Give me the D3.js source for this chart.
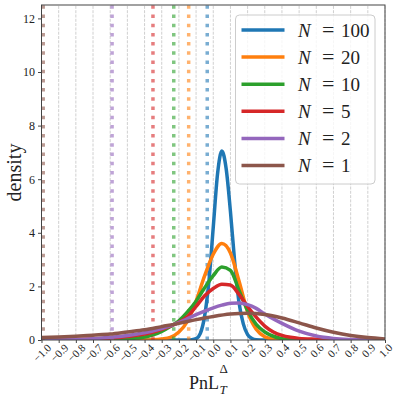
<!DOCTYPE html>
<html>
<head>
<meta charset="utf-8">
<script src="https://cdn.jsdelivr.net/npm/d3@7"></script>
<style>
  body { margin: 0; background: #fff; }
  text { font-family: 'Liberation Serif', 'DejaVu Serif', serif; fill: #222; }
</style>
</head>
<body>
<div id="chart"></div>
<script>
const nValues = [100, 20, 10, 5, 2, 1];
const colors = ['#1f77b4', '#ff7f0e', '#2ca02c', '#d62728', '#9467bd', '#8c564b'];
const xTicks = [-1.0, -0.9, -0.8, -0.7, -0.6, -0.5, -0.4, -0.3, -0.2, -0.1, 0.0,
  0.1, 0.2, 0.3, 0.4, 0.5, 0.6, 0.7, 0.8, 0.9, 1.0];
const yTicks = [0, 2, 4, 6, 8, 10, 12];
// dotted vertical lines, one per N
const quantiles = [-0.035, -0.143, -0.23, -0.351, -0.589, -0.99];

const dens100 = [[-1.0, 0], [-0.15, 0], [-0.125, 0.01], [-0.1, 0.05], [-0.075, 0.25], [-0.05, 0.9],
  [-0.025, 2.2], [0.0, 4.2], [0.025, 6.2], [0.05, 7.05], [0.075, 6.4], [0.1, 4.8], [0.125, 2.9],
  [0.15, 1.4], [0.175, 0.6], [0.2, 0.2], [0.225, 0.06], [0.25, 0.01], [0.3, 0], [1.0, 0]];
const dens20 = [[-1.0, 0], [-0.4, 0], [-0.35, 0.01], [-0.3, 0.04], [-0.25, 0.1], [-0.2, 0.3],
  [-0.15, 0.7], [-0.1, 1.45], [-0.05, 2.4], [0.0, 3.2], [0.05, 3.6], [0.1, 3.25], [0.15, 2.2],
  [0.2, 1.05], [0.25, 0.4], [0.3, 0.12], [0.35, 0.03], [0.4, 0], [1.0, 0]];
const dens10 = [[-1.0, 0], [-0.6, 0.01], [-0.5, 0.04], [-0.45, 0.07], [-0.4, 0.11], [-0.35, 0.19],
  [-0.3, 0.32], [-0.25, 0.5], [-0.2, 0.72], [-0.15, 1.05], [-0.1, 1.45], [-0.05, 1.95], [0.0, 2.4],
  [0.05, 2.72], [0.1, 2.6], [0.15, 1.85], [0.2, 1.1], [0.25, 0.58], [0.3, 0.3], [0.35, 0.14],
  [0.4, 0.05], [0.45, 0.02], [0.5, 0], [1.0, 0]];
const dens5 = [[-1.0, 0], [-0.8, 0.02], [-0.7, 0.04], [-0.6, 0.07], [-0.5, 0.13], [-0.4, 0.22],
  [-0.35, 0.3], [-0.3, 0.4], [-0.25, 0.52], [-0.2, 0.66], [-0.15, 0.88], [-0.1, 1.25], [-0.05, 1.65],
  [0.0, 1.92], [0.05, 2.08], [0.1, 2.05], [0.15, 1.7], [0.2, 1.25], [0.25, 0.85], [0.3, 0.52],
  [0.35, 0.3], [0.4, 0.17], [0.45, 0.1], [0.5, 0.06], [0.6, 0.03], [0.7, 0.01], [0.8, 0], [1.0, 0]];
const dens2 = [[-1.0, 0], [-0.8, 0.02], [-0.7, 0.05], [-0.6, 0.1], [-0.5, 0.17], [-0.4, 0.27],
  [-0.3, 0.43], [-0.2, 0.65], [-0.1, 0.95], [0.0, 1.2], [0.05, 1.3], [0.1, 1.37], [0.15, 1.38],
  [0.2, 1.32], [0.25, 1.18], [0.3, 0.97], [0.4, 0.62], [0.5, 0.33], [0.6, 0.15], [0.7, 0.06],
  [0.8, 0.02], [0.9, 0], [1.0, 0]];
const dens1 = [[-1.0, 0.09], [-0.9, 0.11], [-0.8, 0.14], [-0.7, 0.18], [-0.6, 0.22], [-0.5, 0.3],
  [-0.4, 0.38], [-0.3, 0.5], [-0.2, 0.62], [-0.1, 0.76], [0.0, 0.88], [0.1, 0.97], [0.2, 1.0],
  [0.3, 0.95], [0.4, 0.82], [0.5, 0.64], [0.6, 0.45], [0.7, 0.29], [0.8, 0.17], [0.9, 0.09], [1.0, 0.04]];

const densities = [dens100, dens20, dens10, dens5, dens2, dens1];

const width = 399, height = 399;
const margin = { top: 5, right: 14, bottom: 59, left: 41.5 };

const svg = d3.select('#chart').append('svg')
  .attr('width', width)
  .attr('height', height);

const x = d3.scaleLinear().domain([-1, 1]).range([margin.left, width - margin.right]);
const y = d3.scaleLinear().domain([0, 12.5]).range([height - margin.bottom, margin.top]);

svg.append('clipPath').attr('id', 'plot-clip')
  .append('rect')
  .attr('x', margin.left).attr('y', margin.top)
  .attr('width', x(1) - x(-1)).attr('height', y(0) - y(12.5));

// vertical grid
svg.append('g')
  .selectAll('line')
  .data(xTicks)
  .join('line')
  .attr('x1', d => x(d)).attr('x2', d => x(d))
  .attr('y1', y(0)).attr('y2', y(12.5))
  .attr('stroke', '#c4c4c4')
  .attr('stroke-width', 0.8)
  .attr('stroke-dasharray', '3,1.3');

const plot = svg.append('g').attr('clip-path', 'url(#plot-clip)');
const line = d3.line()
  .x(d => x(d[0]))
  .y(d => y(d[1]))
  .curve(d3.curveMonotoneX);

densities.forEach((dens, i) => {
  plot.append('path')
    .datum(dens)
    .attr('d', line)
    .attr('fill', 'none')
    .attr('stroke', colors[i])
    .attr('stroke-width', 3.5)
    .attr('stroke-linejoin', 'round');
  plot.append('line')
    .attr('x1', x(quantiles[i])).attr('x2', x(quantiles[i]))
    .attr('y1', y(0)).attr('y2', y(12.5))
    .attr('stroke', colors[i])
    .attr('stroke-opacity', 0.6)
    .attr('stroke-width', 3.5)
    .attr('stroke-dasharray', '3.5,5.7');
});

// axes
function xAxis(g) {
  g.attr('transform', `translate(0, ${y(0)})`)
    .call(d3.axisBottom(x).tickValues(xTicks).tickFormat(d3.format('.1f')).tickSize(3).tickSizeOuter(0));
  g.select('.domain').remove();
  g.selectAll('.tick line').attr('stroke', '#444');
  g.selectAll('.tick text')
    .attr('font-size', '11px')
    .attr('text-anchor', 'middle')
    .attr('dy', null)
    .attr('dominant-baseline', 'central')
    .each(function () {
      const len = this.getComputedTextLength();
      const bb = (len + 7.5) / Math.SQRT2;
      d3.select(this).attr('y', null)
        .attr('transform', `translate(0, ${3 + bb / 2}) rotate(-45)`);
    });
}

function yAxis(g) {
  g.attr('transform', `translate(${margin.left}, 0)`)
    .call(d3.axisLeft(y).tickValues(yTicks).tickSize(3.5).tickPadding(3));
  g.select('.domain').remove();
  g.selectAll('.tick line').attr('stroke', '#444');
  g.selectAll('.tick text').attr('font-size', '12px');
}

svg.append('g').call(xAxis);
svg.append('g').call(yAxis);

// frame
svg.append('rect')
  .attr('x', x(-1)).attr('y', y(12.5))
  .attr('width', x(1) - x(-1)).attr('height', y(0) - y(12.5))
  .attr('fill', 'none')
  .attr('stroke', '#444')
  .attr('stroke-width', 1);

// axis labels
svg.append('text')
  .attr('transform', `translate(21, ${(y(0) + y(12.5)) / 2}) rotate(-90)`)
  .attr('text-anchor', 'middle')
  .attr('font-size', '20px')
  .text('density');

const pnl = svg.append('text')
  .attr('x', 189).attr('y', 389)
  .attr('font-size', '18px')
  .text('PnL');
const pnlEnd = 189 + pnl.node().getComputedTextLength() + 0.5;
svg.append('text')
  .attr('x', pnlEnd).attr('y', 373)
  .attr('font-size', '13px')
  .text('Δ');
svg.append('text')
  .attr('x', pnlEnd).attr('y', 394)
  .attr('font-size', '13px')
  .attr('font-style', 'italic')
  .text('T');

// legend
const legend = svg.append('g');
legend.append('rect')
  .attr('x', 235.5).attr('y', 15)
  .attr('width', 139.5).attr('height', 169)
  .attr('rx', 4)
  .attr('fill', '#fff')
  .attr('fill-opacity', 0.8)
  .attr('stroke', '#ccc')
  .attr('stroke-width', 1);

const rows = legend.selectAll('g.row')
  .data(nValues)
  .join('g')
  .attr('class', 'row')
  .attr('transform', (d, i) => `translate(0, ${30 + i * 27.1})`);

rows.append('line')
  .attr('x1', 241.5).attr('x2', 284.5)
  .attr('stroke', (d, i) => colors[i])
  .attr('stroke-width', 3.5);

const label = rows.append('text')
  .attr('y', 6.5)
  .attr('font-size', '19px');
label.append('tspan').attr('x', 298).attr('font-style', 'italic').text('N');
label.append('tspan').attr('x', 322).attr('font-size', '22px').text('=');
label.append('tspan').attr('x', 341).text(d => d);
</script>
</body>
</html>
